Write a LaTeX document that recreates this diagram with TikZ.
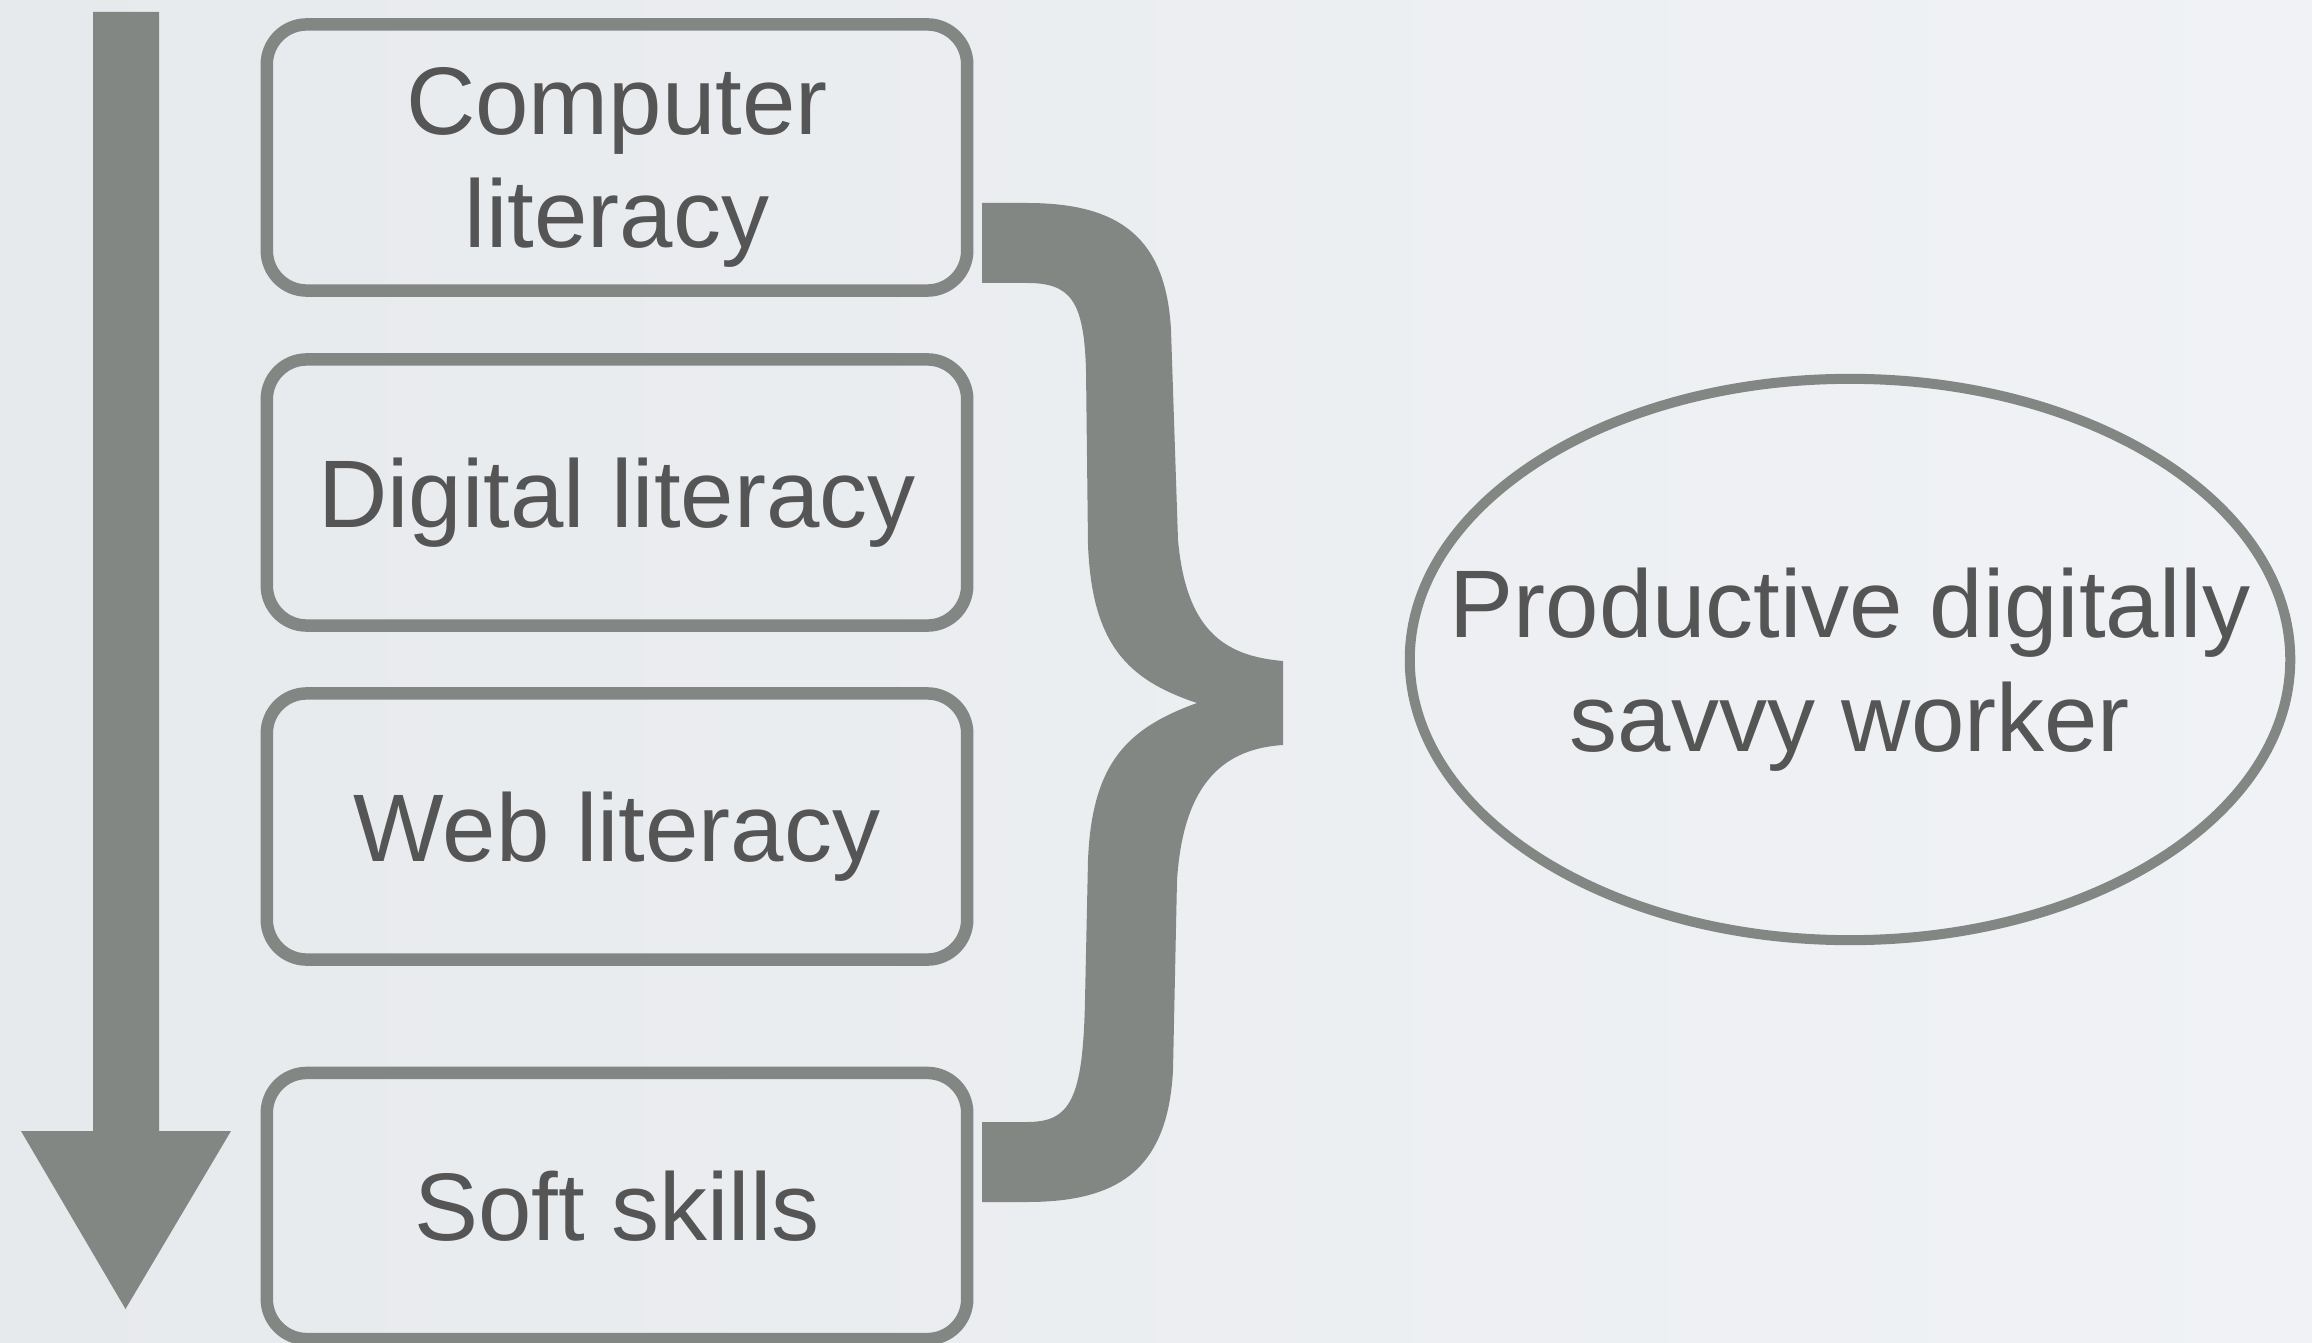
\documentclass[tikz,border=0pt]{standalone}
\usepackage{fontspec}
\setmainfont{Liberation Sans}
\usetikzlibrary{shapes.geometric}

\definecolor{bgleft}{RGB}{231,234,237}
\definecolor{bgright}{RGB}{240,242,245}
\definecolor{shapegray}{RGB}{130,135,132}
\definecolor{inkgray}{RGB}{85,85,85}

\tikzset{
  labeltext/.style={text=inkgray, font=\fontsize{27.3}{32.3}\selectfont,
    align=center, text depth=0pt, inner sep=0pt},
  skillbox/.style={labeltext, draw=shapegray, line width=3.55pt,
    rounded corners=0.4cm, minimum width=7cm, minimum height=2.66cm},
  goal/.style={ellipse, draw=shapegray, line width=2.85pt, inner sep=0pt,
    minimum width=8.8cm, minimum height=5.61cm},
  solidgray/.style={fill=shapegray, draw=none}
}

\begin{document}
\begin{tikzpicture}[x=0.01cm, y=-0.01cm]
  % page and soft background
  \useasboundingbox (0,0) rectangle (2312,1343);
  \shade[left color=bgleft, right color=bgright] (0,0) rectangle (2312,1343);

  % downward arrow along the skills
  \path[solidgray] (93,12) -- (159,12) -- (159,1131) -- (231,1131)
    -- (125.5,1309) -- (21,1131) -- (93,1131) -- cycle;

  % skill boxes
  \node[skillbox] (computer) at (617,157.5) {Computer\\literacy};
  \node[skillbox] (digital)  at (617,492.5) {Digital literacy};
  \node[skillbox] (web)      at (617,826.5) {Web literacy};
  \node[skillbox] (soft)     at (617,1206)  {Soft skills};

  % outcome
  \node[goal, label={[labeltext, name=workertext]center:{Productive digitally\\savvy worker}}]
    (worker) at (1850,659.5) {};

  % curly brace gathering the skills
  \path[solidgray]
    (982,203) -- (1027,203)
      .. controls (1120,203) and (1166,238) .. (1171,330)
      -- (1178,540)
      .. controls (1186,628) and (1222,656) .. (1283,661)
    -- (1283,745)
      .. controls (1218,749) and (1183,790) .. (1177,880)
      -- (1173,1070)
      .. controls (1168,1168) and (1120,1202) .. (1027,1202)
    -- (982,1202) -- (982,1122) -- (1027,1122)
      .. controls (1070,1122) and (1083,1100) .. (1085,1000)
      -- (1088,860)
      .. controls (1092,762) and (1128,728) .. (1197,703)
      .. controls (1128,680) and (1092,645) .. (1088,545)
      -- (1086,370)
      .. controls (1084,300) and (1070,283) .. (1027,283)
    -- (982,283) -- cycle;
\end{tikzpicture}
\end{document}
